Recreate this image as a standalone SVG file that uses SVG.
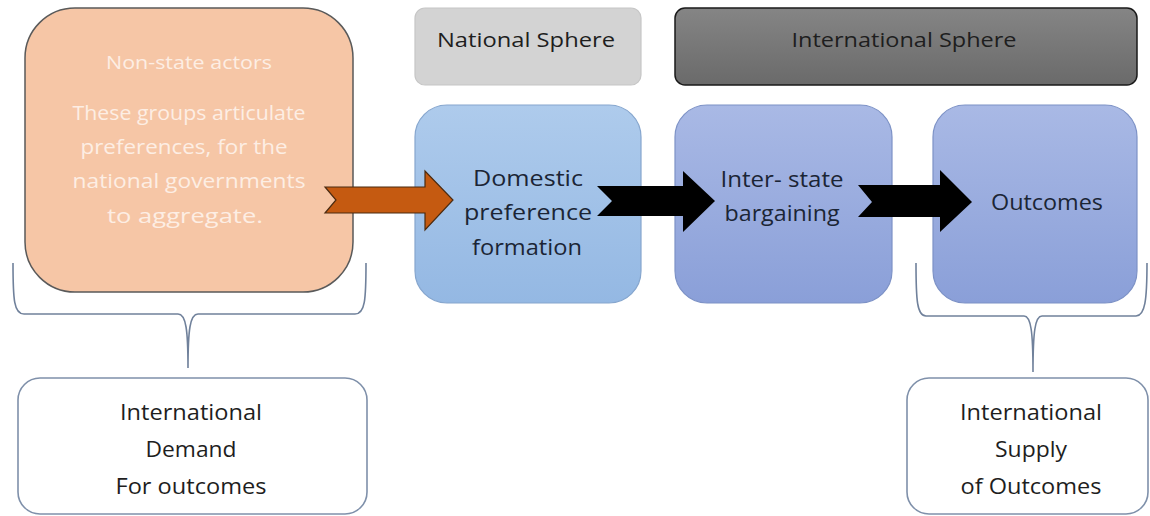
<svg xmlns="http://www.w3.org/2000/svg" width="1150" height="516" viewBox="0 0 1150 516">
<defs>
<linearGradient id="gDom" x1="0" y1="0" x2="0" y2="1"><stop offset="0" stop-color="#AECBEC"/><stop offset="1" stop-color="#94B8E3"/></linearGradient>
<linearGradient id="gInt" x1="0" y1="0" x2="0" y2="1"><stop offset="0" stop-color="#A9B9E5"/><stop offset="1" stop-color="#8A9FD8"/></linearGradient>
<linearGradient id="gIS" x1="0" y1="0" x2="0" y2="1"><stop offset="0" stop-color="#858585"/><stop offset="1" stop-color="#6A6A6A"/></linearGradient>
<style>
text{font-family:"Open Sans","Liberation Sans",sans-serif;text-anchor:middle}
.lbl{font-size:21px;fill:#1b2535}
.hdr{font-size:20px;fill:#1e1e1e}
.wt{font-size:20px;fill:#FDEEE4}
.bot{font-size:21px;fill:#1e1e1e}
.brace{fill:none;stroke:#70819b;stroke-width:1.6}
.botbox{fill:#fff;stroke:#7f90aa;stroke-width:1.6}
</style>
</defs>
<rect width="1150" height="516" fill="#fff"/>
<g id="non-state">
<rect x="25" y="8" width="328" height="284" rx="50" fill="#F6C6A6" stroke="#5a5a5a" stroke-width="1.5"/>
<text class="wt" x="189" y="69" style="font-size:18px" textLength="166" lengthAdjust="spacingAndGlyphs">Non-state actors</text>
<text class="wt" x="189" y="120" textLength="233" lengthAdjust="spacingAndGlyphs">These groups articulate</text>
<text class="wt" x="184" y="154" textLength="207" lengthAdjust="spacingAndGlyphs">preferences, for the</text>
<text class="wt" x="189" y="188" textLength="233" lengthAdjust="spacingAndGlyphs">national governments</text>
<text class="wt" x="185" y="223" textLength="156" lengthAdjust="spacingAndGlyphs">to aggregate.</text>
</g>
<g id="national-sphere">
<rect x="415" y="8" width="226" height="77" rx="10" fill="#D3D3D3" stroke="#C6C6C6" stroke-width="1.2"/>
<text class="hdr" x="526" y="47" textLength="178" lengthAdjust="spacingAndGlyphs">National Sphere</text>
</g>
<g id="international-sphere">
<rect x="675" y="8" width="462" height="77" rx="10" fill="url(#gIS)" stroke="#1a1a1a" stroke-width="1.5"/>
<text class="hdr" x="904" y="47" textLength="225" lengthAdjust="spacingAndGlyphs">International Sphere</text>
</g>
<g id="domestic">
<rect x="415" y="105" width="226" height="198" rx="32" fill="url(#gDom)" stroke="#86A6CE" stroke-width="1.2"/>
<text class="lbl" x="528" y="186" textLength="110" lengthAdjust="spacingAndGlyphs">Domestic</text>
<text class="lbl" x="528" y="220" textLength="128" lengthAdjust="spacingAndGlyphs">preference</text>
<text class="lbl" x="527" y="255" textLength="110" lengthAdjust="spacingAndGlyphs">formation</text>
</g>
<g id="interstate">
<rect x="675" y="105" width="217" height="198" rx="32" fill="url(#gInt)" stroke="#7D92C6" stroke-width="1.2"/>
<text class="lbl" x="782" y="187" textLength="123" lengthAdjust="spacingAndGlyphs">Inter- state</text>
<text class="lbl" x="782" y="221" textLength="115" lengthAdjust="spacingAndGlyphs">bargaining</text>
</g>
<g id="outcomes">
<rect x="933" y="105" width="204" height="198" rx="32" fill="url(#gInt)" stroke="#7D92C6" stroke-width="1.2"/>
<text class="lbl" x="1047" y="210" textLength="112" lengthAdjust="spacingAndGlyphs">Outcomes</text>
</g>
<g id="demand">
<rect class="botbox" x="18" y="378" width="349" height="136" rx="22"/>
<text class="bot" x="191" y="420" textLength="142" lengthAdjust="spacingAndGlyphs">International</text>
<text class="bot" x="191" y="457" textLength="91" lengthAdjust="spacingAndGlyphs">Demand</text>
<text class="bot" x="191" y="494" textLength="151" lengthAdjust="spacingAndGlyphs">For outcomes</text>
</g>
<g id="supply">
<rect class="botbox" x="907" y="378" width="241" height="136" rx="22"/>
<text class="bot" x="1031" y="420" textLength="142" lengthAdjust="spacingAndGlyphs">International</text>
<text class="bot" x="1031" y="457" textLength="72" lengthAdjust="spacingAndGlyphs">Supply</text>
<text class="bot" x="1031" y="494" textLength="141" lengthAdjust="spacingAndGlyphs">of Outcomes</text>
</g>
<g id="connectors">
<path d="M325,187 L425,187 L425,171 L453,200 L425,230 L425,213 L325,213 L336,200 Z" fill="#C55A11" stroke="#4a2a10" stroke-width="1.2"/>
<path d="M597,186 L683,186 L683,171 L715,201 L683,232 L683,216 L597,216 L612,201 Z" fill="#000"/>
<path d="M858,185 L940,185 L940,170 L972,202 L940,232 L940,217 L858,217 L872,202 Z" fill="#000"/>
<path class="brace" d="M13,263 C13,300 14,314 24,314 L178,314 C186,314 188,330 188,368 C188,330 190,314 198,314 L355,314 C365,314 366,300 366,263"/>
<path class="brace" d="M916,263 C916,300 917,316 926,316 L1024,316 C1031,316 1033,332 1033,372 C1033,332 1035,316 1042,316 L1136,316 C1145,316 1147,300 1147,263"/>
</g>
</svg>
